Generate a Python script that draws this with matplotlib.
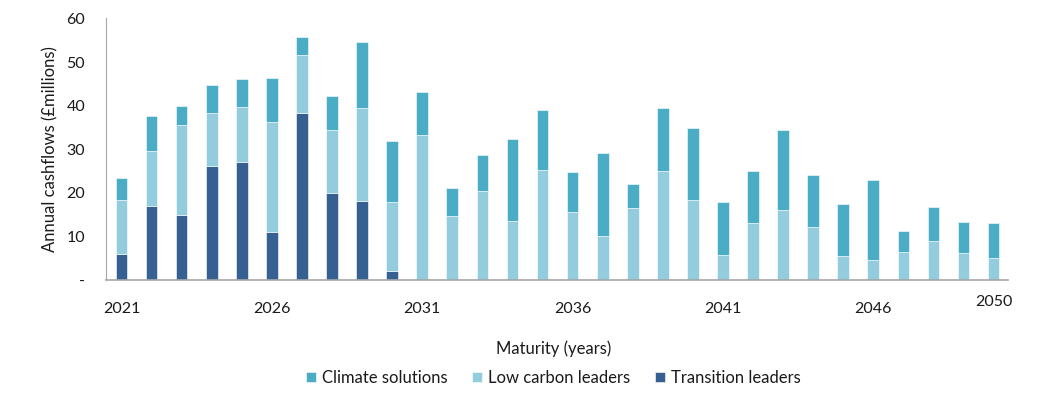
import matplotlib.pyplot as plt
from matplotlib.transforms import ScaledTranslation

plt.rcParams['font.family'] = ['Lato', 'DejaVu Sans']

# 数据
years = list(range(2021, 2051))
transition_leaders = [5.9, 16.9, 14.9, 26.2, 27.1, 11.0, 38.2, 19.9, 18.1, 2.1,
                      0, 0, 0, 0, 0, 0, 0, 0, 0, 0,
                      0, 0, 0, 0, 0, 0, 0, 0, 0, 0]
low_carbon_leaders = [12.4, 12.7, 20.6, 12.0, 12.5, 25.2, 13.5, 14.6, 21.4, 15.7,
                      33.3, 14.6, 20.5, 13.6, 25.2, 15.6, 10.2, 16.5, 24.9, 18.3,
                      5.7, 13.1, 16.0, 12.1, 5.5, 4.7, 6.5, 8.9, 6.2, 5.0]
climate_solutions = [5.0, 8.1, 4.4, 6.6, 6.4, 10.1, 4.0, 7.6, 15.0, 14.0,
                     9.8, 6.6, 8.1, 18.7, 13.7, 9.2, 18.9, 5.5, 14.5, 16.5,
                     12.3, 11.8, 18.3, 12.1, 12.0, 18.2, 4.7, 7.9, 7.2, 8.1]
tick_years = [2021, 2026, 2031, 2036, 2041, 2046, 2050]
y_ticks = [0, 10, 20, 30, 40, 50, 60]
y_tick_labels = ['-', '10', '20', '30', '40', '50', '60']

c_tl = '#376092'
c_lcl = '#93CDDD'
c_cs = '#4BACC6'
txt = '#1a1a1a'

fig = plt.figure(figsize=(10.6, 3.93), dpi=100)
ax = fig.add_axes([0.1, 0.2875, 0.851, 0.6655])

w = 0.39
bottom_lcl = transition_leaders
bottom_cs = [a + b for a, b in zip(transition_leaders, low_carbon_leaders)]
ax.bar(years, transition_leaders, w, color=c_tl, edgecolor='white', linewidth=0.4,
       label='Transition leaders')
ax.bar(years, low_carbon_leaders, w, bottom=bottom_lcl, color=c_lcl,
       edgecolor='white', linewidth=0.4, label='Low carbon leaders')
ax.bar(years, climate_solutions, w, bottom=bottom_cs, color=c_cs,
       edgecolor='white', linewidth=0.4, label='Climate solutions')

# 坐标轴
ax.set_xlim(2020.485, 2050.48)
ax.set_ylim(0, 60)
ax.set_xticks(tick_years)
ax.set_xticklabels([str(y) for y in tick_years])
ax.set_yticks(y_ticks)
ax.set_yticklabels(y_tick_labels)
ax.tick_params(axis='both', length=0, labelsize=11.5, colors=txt)
ax.tick_params(axis='y', pad=15)
ax.tick_params(axis='x', pad=16)

for s in ['top', 'right']:
    ax.spines[s].set_visible(False)
ax.spines['left'].set_color('#A6A6A6')
ax.spines['bottom'].set_color('#A6A6A6')
ax.spines['bottom'].set_linewidth(1.2)

# 2050 标签稍微上移
lbl = ax.get_xticklabels()[-1]
lbl.set_transform(lbl.get_transform() + ScaledTranslation(0, 5 / 72, fig.dpi_scale_trans))

ax.set_ylabel('Annual cashflows (£millions)', fontsize=12, color=txt)
ax.yaxis.set_label_coords(-0.053, 0.5)
fig.text(0.522, 1 - 349 / 393, 'Maturity (years)', ha='center', va='center',
         fontsize=12, color=txt)

handles, labels = ax.get_legend_handles_labels()
fig.legend(handles[::-1], labels[::-1], loc='center', ncol=3,
           bbox_to_anchor=(0.522, 1 - 378 / 393), frameon=False,
           fontsize=12, handlelength=0.6, handleheight=0.6,
           handletextpad=0.35, columnspacing=1.5, labelcolor=txt)

plt.savefig('out.png', dpi=100)
